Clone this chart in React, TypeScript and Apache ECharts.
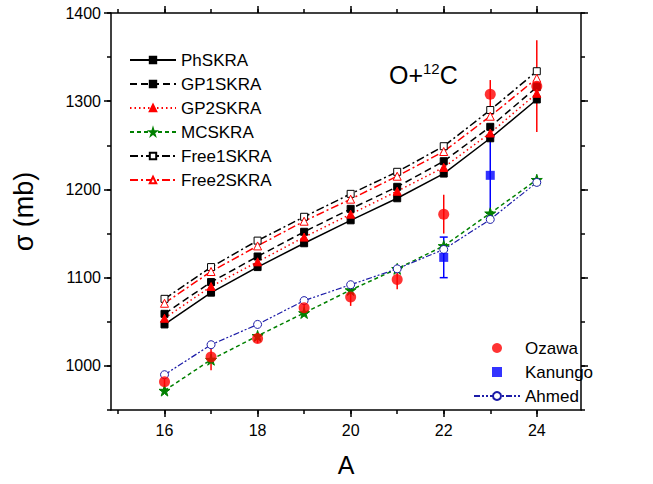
import React, { useEffect, useRef } from "react";
import * as echarts from "echarts";

const FONT = "Liberation Sans, Arial, sans-serif";

const A = [16, 17, 18, 19, 20, 21, 22, 23, 24];
const PhSKRA = [1047, 1083, 1112, 1139, 1165, 1190, 1218, 1258, 1302];
const GP1SKRA = [1059, 1095, 1124, 1152, 1178, 1203, 1232, 1271, 1316];
const GP2SKRA = [1054, 1090, 1118, 1146, 1172, 1198, 1225, 1264, 1309];
const MCSKRA = [972, 1007, 1034, 1060, 1086, 1110, 1136, 1173, 1211];
const Free1SKRA = [1076, 1112, 1142, 1169, 1195, 1220, 1249, 1290, 1334];
const Free2SKRA = [1071, 1107, 1136, 1164, 1189, 1215, 1243, 1283, 1326];
const Ahmed = [990, 1024, 1047, 1074, 1092, 1110, 1132, 1166, 1208];

const OzawaA = [16, 17, 18, 19, 20, 21, 22, 23, 24];
const Ozawa = [982, 1010, 1031, 1066, 1078, 1098, 1172, 1308, 1317];
const OzawaErr = [5, 15, 5, 8, 10, 11, 22, 16, 52];

const KanungoA = [22, 23];
const Kanungo = [1123, 1216];
const KanungoErr = [23, 43];

const X_MINOR = [15, 16, 17, 18, 19, 20, 21, 22, 23, 24];
const X_LABELS = [16, 18, 20, 22, 24];
const Y_LABELS = [1000, 1100, 1200, 1300, 1400];

const pairs = (xs: number[], ys: number[]) => xs.map((x, i) => [x, ys[i]]);
const triples = (xs: number[], ys: number[], es: number[]) => xs.map((x, i) => [x, ys[i], es[i]]);

const STAR = "path://M50,0 L61,35 L98,35 L68,57 L79,91 L50,70 L21,91 L32,57 L2,35 L39,35 Z";
const SQUARE = "path://M0,0 L10,0 L10,10 L0,10 Z";

export default function App() {
  const ref = useRef<HTMLDivElement>(null);
  useEffect(() => {
    document.body.style.margin = "0";
    if (!ref.current) return;
    const chart = echarts.init(ref.current, undefined, { renderer: "svg" });
    const axisLine = { show: true, onZero: false, lineStyle: { color: "#000", width: 1.5 } };
    const tickStyle = { color: "#000", width: 1.5 };
    const baseX = { type: "value", min: 14.85, max: 24.95, splitLine: { show: false } };
    const baseY = { type: "value", min: 950, max: 1400, splitLine: { show: false } };

    const errSeries = (name: string, data: number[][], color: string, cap: number) => ({
      type: "custom",
      name,
      xAxisIndex: 0,
      yAxisIndex: 0,
      data,
      z: 3,
      renderItem: (params: any, api: any) => {
        const x = api.value(0);
        const y = api.value(1);
        const e = api.value(2);
        const t = api.coord([x, y + e]);
        const b = api.coord([x, y - e]);
        const children: any[] = [
          { type: "line", shape: { x1: t[0], y1: t[1], x2: b[0], y2: b[1] }, style: { stroke: color, lineWidth: 1.5 } },
        ];
        if (cap > 0) {
          children.push({ type: "line", shape: { x1: t[0] - cap, y1: t[1], x2: t[0] + cap, y2: t[1] }, style: { stroke: color, lineWidth: 1.5 } });
          children.push({ type: "line", shape: { x1: b[0] - cap, y1: b[1], x2: b[0] + cap, y2: b[1] }, style: { stroke: color, lineWidth: 1.5 } });
        }
        return { type: "group", children };
      },
    });

    const lineSeries = (name: string, ys: number[], color: string, type: any, symbol: string, size: number, fill: string, width = 1.5) => ({
      type: "line",
      name,
      data: pairs(A, ys),
      xAxisIndex: 0,
      yAxisIndex: 0,
      symbol,
      symbolSize: size,
      showAllSymbol: true,
      lineStyle: { color, width, type },
      itemStyle: { color: fill, borderColor: color, borderWidth: 1 },
      z: 4,
    });

    chart.setOption({
      animation: false,
      grid: { left: 111, right: 72, top: 13, bottom: 74, containLabel: false },
      xAxis: [
        {
          ...baseX,
          position: "bottom",
          axisLine,
          axisTick: { show: true, customValues: X_MINOR, length: 4, lineStyle: tickStyle },
          axisLabel: { customValues: X_LABELS, fontSize: 16, color: "#000", fontFamily: FONT, margin: 12 },
          name: "A",
          nameLocation: "middle",
          nameGap: 42,
          nameTextStyle: { fontSize: 25, fontFamily: FONT, color: "#000" },
        },
        {
          ...baseX,
          position: "bottom",
          axisLine: { show: false },
          axisTick: { show: true, customValues: X_LABELS, length: 7, lineStyle: tickStyle },
          axisLabel: { show: false },
        },
        {
          ...baseX,
          position: "top",
          axisLine,
          axisTick: { show: true, customValues: X_MINOR, length: 4, lineStyle: tickStyle },
          axisLabel: { show: false },
        },
        {
          ...baseX,
          position: "top",
          axisLine: { show: false },
          axisTick: { show: true, customValues: X_LABELS, length: 7, lineStyle: tickStyle },
          axisLabel: { show: false },
        },
      ],
      yAxis: [
        {
          ...baseY,
          position: "left",
          interval: 50,
          axisLine,
          axisTick: { show: true, length: 4, lineStyle: tickStyle },
          axisLabel: {
            customValues: Y_LABELS,
            formatter: (v: number) => String(v),
            fontSize: 16,
            color: "#000",
            fontFamily: FONT,
            margin: 10,
          },
          name: "σ (mb)",
          nameLocation: "middle",
          nameRotate: 90,
          nameGap: 74,
          nameTextStyle: { fontSize: 27, fontFamily: FONT, color: "#000" },
        },
        {
          ...baseY,
          position: "left",
          axisLine: { show: false },
          axisTick: { show: true, customValues: Y_LABELS, length: 7, lineStyle: tickStyle },
          axisLabel: { show: false },
        },
        {
          ...baseY,
          position: "right",
          interval: 50,
          axisLine,
          axisTick: { show: true, length: 4, lineStyle: tickStyle },
          axisLabel: { show: false },
        },
        {
          ...baseY,
          position: "right",
          axisLine: { show: false },
          axisTick: { show: true, customValues: Y_LABELS, length: 7, lineStyle: tickStyle },
          axisLabel: { show: false },
        },
      ],
      title: {
        text: "{a|O+}{b|12}{a|C}",
        left: 384,
        top: 56,
        textStyle: {
          fontWeight: "normal",
          rich: {
            a: { fontSize: 25, fontFamily: FONT, color: "#000", lineHeight: 28, fontWeight: "normal" },
            b: { fontSize: 15, fontFamily: FONT, color: "#000", verticalAlign: "top", lineHeight: 14, fontWeight: "normal" },
          },
        },
      },
      legend: [
        {
          orient: "vertical",
          left: 124,
          top: 46,
          itemWidth: 46,
          itemHeight: 8,
          itemGap: 6,
          textStyle: { fontSize: 17, fontFamily: FONT, color: "#000", lineHeight: 18 },
          data: ["PhSKRA", "GP1SKRA", "GP2SKRA", "MCSKRA", "Free1SKRA", "Free2SKRA"],
        },
        {
          orient: "vertical",
          left: 468,
          top: 334,
          itemWidth: 46,
          itemHeight: 10,
          itemGap: 6,
          textStyle: { fontSize: 17, fontFamily: FONT, color: "#000", lineHeight: 18 },
          data: ["Ozawa", { name: "Kanungo", icon: SQUARE }, "Ahmed"],
        },
      ],
      series: [
        lineSeries("PhSKRA", PhSKRA, "#000", "solid", "rect", 7, "#000"),
        lineSeries("GP1SKRA", GP1SKRA, "#000", [7, 4], "rect", 7, "#000"),
        lineSeries("GP2SKRA", GP2SKRA, "#ff0000", [1.5, 3], "triangle", 8, "#ff0000"),
        lineSeries("MCSKRA", MCSKRA, "#008000", [4, 3], STAR, 11, "#008000"),
        lineSeries("Free1SKRA", Free1SKRA, "#000", [8, 3, 2, 3], "rect", 7, "#fff"),
        lineSeries("Free2SKRA", Free2SKRA, "#ff0000", [8, 3, 2, 3], "triangle", 8, "#fff"),
        lineSeries("Ahmed", Ahmed, "#1c1ca8", [6, 2, 2, 2, 2, 2], "circle", 8, "#fff", 1.2),
        errSeries("OzawaErr", triples(OzawaA, Ozawa, OzawaErr), "#ff0000", 0),
        errSeries("KanungoErr", triples(KanungoA, Kanungo, KanungoErr), "#0000ff", 4),
        {
          type: "scatter",
          name: "Ozawa",
          data: pairs(OzawaA, Ozawa),
          symbol: "circle",
          symbolSize: 11,
          itemStyle: { color: "#ff0000" },
          z: 5,
        },
        {
          type: "scatter",
          name: "Kanungo",
          data: pairs(KanungoA, Kanungo),
          symbol: "rect",
          symbolSize: 9,
          itemStyle: { color: "#0000ff" },
          z: 5,
        },
      ],
    });
    return () => chart.dispose();
  }, []);
  return <div ref={ref} style={{ width: 653, height: 484 }} />;
}
